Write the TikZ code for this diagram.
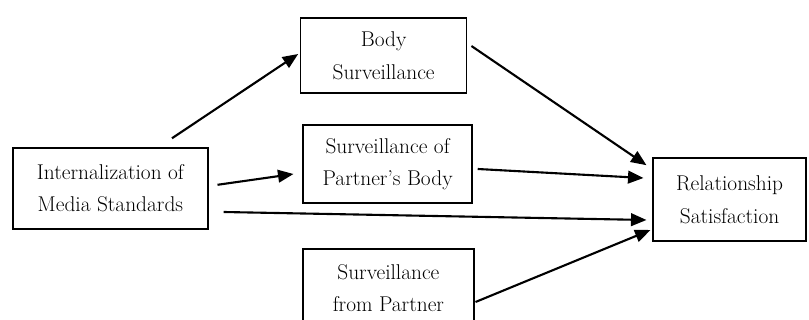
\documentclass[tikz,border=0pt]{standalone}
\usepackage{tikz}
\usetikzlibrary{arrows.meta, positioning, calc}

\begin{document}
\begin{tikzpicture}[
    box/.style={draw=black, line width=0.9pt, align=center, inner sep=2pt, font=\fontsize{15.2}{23}\selectfont},
    arr/.style={-{Triangle[length=11pt, width=9pt]}, line width=1.5pt}]
    \useasboundingbox (0,0) rectangle (20.225,8);

    \node[box, minimum width=4.875cm, minimum height=2.025cm] (media) at (2.76, 3.29) {Internalization of\\Media Standards};
    \node[box, minimum width=4.16cm, minimum height=1.875cm] (selfsurv) at (9.59, 6.61) {Body\\Surveillance};
    \node[box, minimum width=4.225cm, minimum height=1.95cm] (partsurv) at (9.69, 3.9) {Surveillance of\\Partner's Body};
    \node[box, minimum width=4.275cm, minimum height=1.95cm] (fromsurv) at (9.71, 0.8) {Surveillance\\from Partner};
    \node[box, minimum width=3.825cm, minimum height=2.075cm] (relsat) at (18.24, 3.01) {Relationship\\Satisfaction};

    % paths from media standards
    \draw[arr] ($(media.north)+(1.54,0.225)$) -- ($(selfsurv.west)+(-0.04,0.04)$);
    \draw[arr] ($(media.east)+(0.225,0.09)$) -- ($(partsurv.west)+(-0.225,-0.25)$);
    \draw[arr] ($(media.east)+(0.375,-0.59)$) -- ($(relsat.west)+(-0.15,-0.51)$);

    % paths into satisfaction
    \draw[arr] ($(selfsurv.east)+(0.1,0.24)$) -- ($(relsat.west)+(-0.15,0.86)$);
    \draw[arr] ($(partsurv.east)+(0.125,-0.125)$) -- ($(relsat.west)+(-0.225,0.54)$);
    \draw[arr] ($(fromsurv.east)+(0.025,-0.35)$) -- ($(relsat.west)+(-0.05,-0.76)$);
\end{tikzpicture}
\end{document}
